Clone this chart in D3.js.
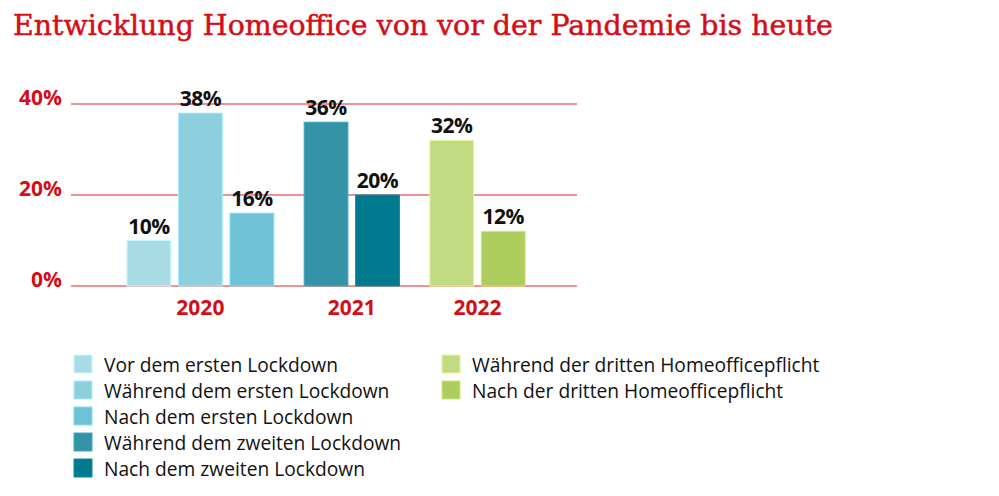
<!DOCTYPE html>
<html lang="de">
<head>
  <meta charset="UTF-8">
  <title>Entwicklung Homeoffice</title>
  <script src="https://cdn.jsdelivr.net/npm/d3@7"></script>
  <style>
    body { margin: 0; background: #fff; }
    svg { display: block; }
  </style>
</head>
<body>
  <script>
    // data
    const years = ["2020", "2021", "2022"];
    const series = [
      "Vor dem ersten Lockdown",
      "Während dem ersten Lockdown",
      "Nach dem ersten Lockdown",
      "Während dem zweiten Lockdown",
      "Nach dem zweiten Lockdown",
      "Während der dritten Homeofficepflicht",
      "Nach der dritten Homeofficepflicht"
    ];
    const seriesYear = ["2020", "2020", "2020", "2021", "2021", "2022", "2022"];
    const values = [10, 38, 16, 36, 20, 32, 12];
    const yTicks = [0, 20, 40];

    const colors = ["#a8dbe4", "#8ecfdd", "#6fc1d5", "#3593a7", "#017a8f", "#c2da82", "#aecd5f"];
    const red = "#d40d17";

    const w = 999, h = 496;
    const svg = d3.select("body").append("svg").attr("width", w).attr("height", h);

    // title, fitted to width
    const title = svg.append("text")
      .attr("x", 13).attr("y", 35)
      .attr("fill", red)
      .attr("stroke", red).attr("stroke-width", 0.5)
      .style("font-family", "'DejaVu Serif', serif")
      .style("font-size", "28px")
      .text("Entwicklung Homeoffice von vor der Pandemie bis heute");
    const tw = title.node().getComputedTextLength();
    title.style("font-size", (28 * 820 / tw) + "px");

    // scales
    const groupGap = 0.44;
    const slot = i => i + years.indexOf(seriesYear[i]) * groupGap;
    const nSlots = values.length + (years.length - 1) * groupGap;
    const x = d3.scaleLinear().domain([0, nSlots]).range([127, 127 + nSlots * 51.5]);
    const barW = x(0.85) - x(0);
    const y = d3.scaleLinear().domain([0, 40]).range([286, 104]);
    const color = d3.scaleOrdinal().domain(series).range(colors);

    // grid
    svg.append("g").selectAll("line")
      .data(yTicks).enter().append("line")
      .attr("x1", 71).attr("x2", 577)
      .attr("y1", d => y(d)).attr("y2", d => y(d))
      .attr("stroke", "#ec6d70").attr("stroke-width", 1.6);

    // y axis labels
    svg.append("g").selectAll("text")
      .data(yTicks).enter().append("text")
      .attr("x", 62).attr("y", d => y(d) + 0.5)
      .attr("text-anchor", "end")
      .attr("fill", red)
      .style("font-family", "'Open Sans', sans-serif")
      .style("font-weight", "bold")
      .style("font-size", "21px")
      .text(d => d + "%");

    // bars
    const bars = values.map((v, i) => ({ v, i, name: series[i] }));
    svg.append("g").selectAll("rect")
      .data(bars).enter().append("rect")
      .attr("x", d => x(slot(d.i)))
      .attr("y", d => y(d.v))
      .attr("width", barW)
      .attr("height", d => y(0) - y(d.v))
      .attr("fill", d => color(d.name))
      .attr("stroke", d => d3.color(color(d.name)).brighter(0.4))
      .attr("stroke-width", 1);

    // value labels
    svg.append("g").selectAll("text")
      .data(bars).enter().append("text")
      .attr("x", d => x(slot(d.i)) + barW / 2)
      .attr("y", d => y(d.v) - 7)
      .attr("text-anchor", "middle")
      .attr("fill", "#111")
      .style("font-family", "'Open Sans', sans-serif")
      .style("font-weight", "bold")
      .style("font-size", "21px")
      .style("letter-spacing", "-0.5px")
      .text(d => d.v + "%");

    // year labels centred under their group
    const groupCenter = yr => {
      const idx = seriesYear.map((s, i) => s === yr ? i : -1).filter(i => i >= 0);
      const a = x(slot(idx[0]));
      const b = x(slot(idx[idx.length - 1])) + barW;
      return (a + b) / 2;
    };
    svg.append("g").selectAll("text")
      .data(years).enter().append("text")
      .attr("x", d => groupCenter(d))
      .attr("y", 315)
      .attr("text-anchor", "middle")
      .attr("fill", red)
      .style("font-family", "'Open Sans', sans-serif")
      .style("font-weight", "bold")
      .style("font-size", "21px")
      .text(d => d);

    // legend
    const perCol = 5;
    const legend = svg.append("g").selectAll("g")
      .data(series).enter().append("g")
      .attr("transform", (d, i) => {
        const col = Math.floor(i / perCol), row = i % perCol;
        return `translate(${col === 0 ? 74 : 442},${355 + row * 26})`;
      });
    legend.append("rect")
      .attr("width", 18).attr("height", 18)
      .attr("fill", d => color(d))
      .attr("stroke", d => d3.color(color(d)).brighter(0.4))
      .attr("stroke-width", 1);
    legend.append("text")
      .attr("x", 30).attr("y", 17)
      .attr("fill", "#111")
      .style("font-family", "'Open Sans', sans-serif")
      .style("font-size", "19.2px")
      .text(d => d);
  </script>
</body>
</html>
